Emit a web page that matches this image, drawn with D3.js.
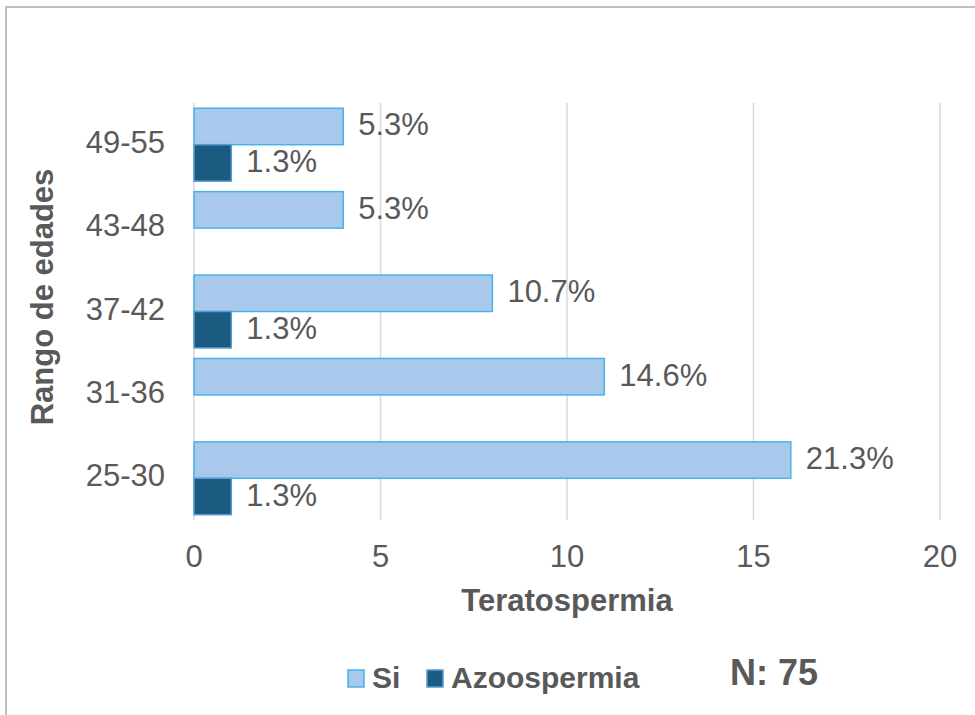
<!DOCTYPE html>
<html>
<head>
<meta charset="utf-8">
<script src="https://cdn.jsdelivr.net/npm/d3@7"></script>
<style>
  body { margin: 0; background: #fff; }
  text { font-family: "Liberation Sans", Arial, sans-serif; }
</style>
</head>
<body>
<div id="chart"></div>
<script>
var categories = ["49-55", "43-48", "37-42", "31-36", "25-30"];
var series = ["Si", "Azoospermia"];
var siValues = [4, 4, 8, 11, 16];
var azooValues = [1, 0, 1, 0, 1];
var siLabels = ["5.3%", "5.3%", "10.7%", "14.6%", "21.3%"];
var azooLabels = ["1.3%", "", "1.3%", "", "1.3%"];
var xTicks = [0, 5, 10, 15, 20];

var width = 975, height = 715;
var fills = { "Si": "#a9c9ec", "Azoospermia": "#1b5b7f" };
var strokes = { "Si": "#45b4e6", "Azoospermia": "#5a9bd5" };

var svg = d3.select("#chart").append("svg")
    .attr("width", width)
    .attr("height", height);

// outer frame
svg.append("rect")
    .attr("x", 6).attr("y", 7)
    .attr("width", 980).attr("height", 720)
    .attr("fill", "none")
    .attr("stroke", "#bfbfbf")
    .attr("stroke-width", 2);

var x = d3.scaleLinear().domain([0, 20]).range([194, 940]);
var y = d3.scaleBand().domain(categories).range([103, 520])
    .paddingInner(0.126).paddingOuter(0.063);
var ySub = d3.scaleBand().domain(series).range([0, y.bandwidth()]);

// gridlines
svg.append("g").selectAll("line")
    .data(xTicks)
    .enter().append("line")
    .attr("x1", d => x(d)).attr("x2", d => x(d))
    .attr("y1", 103).attr("y2", 520)
    .attr("stroke", "#d9d9d9")
    .attr("stroke-width", 1.5);

// x tick labels
svg.append("g").selectAll("text")
    .data(xTicks)
    .enter().append("text")
    .attr("x", d => x(d))
    .attr("y", 567)
    .attr("text-anchor", "middle")
    .attr("font-size", 31)
    .attr("fill", "#595959")
    .text(d => d);

// category labels
svg.append("g").selectAll("text")
    .data(categories)
    .enter().append("text")
    .attr("x", 165)
    .attr("y", d => y(d) + y.bandwidth() / 2 + 8)
    .attr("text-anchor", "end")
    .attr("font-size", 31)
    .attr("fill", "#595959")
    .text(d => d);

var rows = categories.map(function (c, i) {
    return [
        { cat: c, key: "Si", value: siValues[i], label: siLabels[i] },
        { cat: c, key: "Azoospermia", value: azooValues[i], label: azooLabels[i] }
    ];
});

var groups = svg.append("g").selectAll("g")
    .data(rows)
    .enter().append("g")
    .attr("transform", d => "translate(0," + y(d[0].cat) + ")");

groups.selectAll("rect")
    .data(d => d.filter(b => b.value > 0))
    .enter().append("rect")
    .attr("x", x(0))
    .attr("y", d => ySub(d.key))
    .attr("width", d => x(d.value) - x(0))
    .attr("height", ySub.bandwidth())
    .attr("fill", d => fills[d.key])
    .attr("stroke", d => strokes[d.key])
    .attr("stroke-width", 1.5);

groups.selectAll("text")
    .data(d => d.filter(b => b.value > 0))
    .enter().append("text")
    .attr("x", d => x(d.value) + 15)
    .attr("y", d => ySub(d.key) + ySub.bandwidth() / 2 + 9)
    .attr("font-size", 31)
    .attr("fill", "#595959")
    .text(d => d.label);

// axis titles
svg.append("text")
    .attr("x", 567)
    .attr("y", 611)
    .attr("text-anchor", "middle")
    .attr("font-size", 31)
    .attr("font-weight", "bold")
    .attr("fill", "#595959")
    .text("Teratospermia");

svg.append("text")
    .attr("transform", "translate(53,297) rotate(-90)")
    .attr("text-anchor", "middle")
    .attr("font-size", 31)
    .attr("font-weight", "bold")
    .attr("fill", "#595959")
    .text("Rango de edades");

// legend
var legendItems = [
    { key: "Si", x: 348 },
    { key: "Azoospermia", x: 427 }
];
var legend = svg.append("g").selectAll("g")
    .data(legendItems)
    .enter().append("g")
    .attr("transform", d => "translate(" + d.x + ",670)");

legend.append("rect")
    .attr("width", 16).attr("height", 17)
    .attr("fill", d => fills[d.key])
    .attr("stroke", d => strokes[d.key])
    .attr("stroke-width", 1.5);

legend.append("text")
    .attr("x", 24)
    .attr("y", 18)
    .attr("font-size", 30)
    .attr("font-weight", "bold")
    .attr("fill", "#595959")
    .text(d => d.key);

svg.append("text")
    .attr("x", 730)
    .attr("y", 685)
    .attr("font-size", 36)
    .attr("font-weight", "bold")
    .attr("fill", "#595959")
    .text("N: 75");
</script>
</body>
</html>
